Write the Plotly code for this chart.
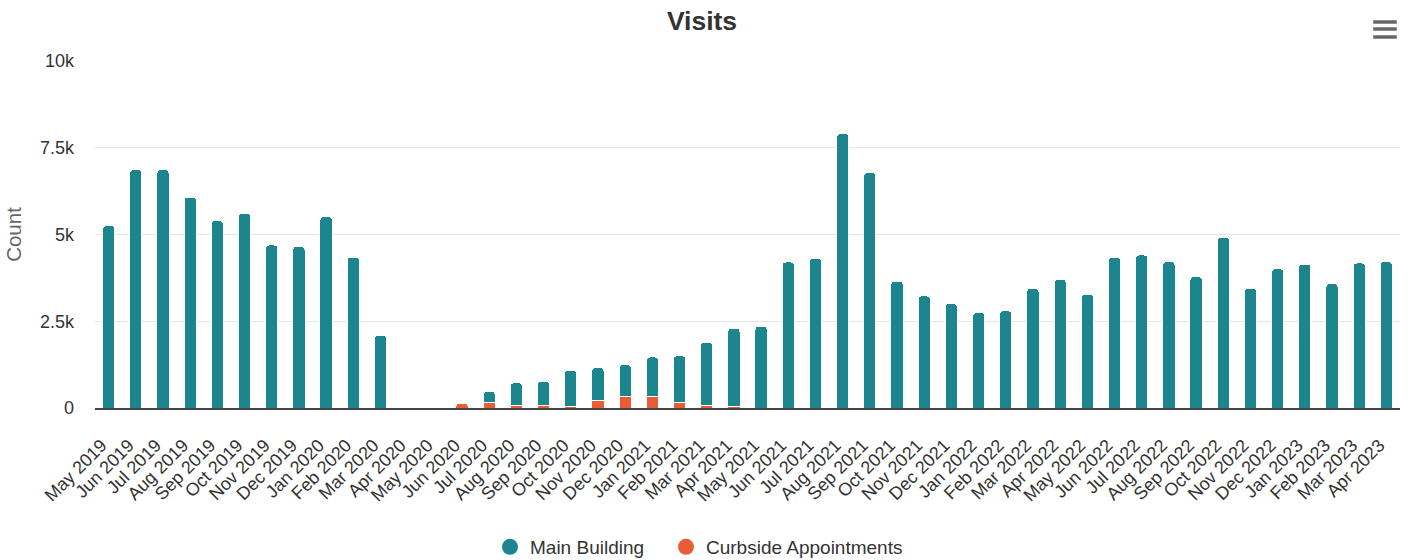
import plotly.graph_objects as go

months = ["May 2019", "Jun 2019", "Jul 2019", "Aug 2019", "Sep 2019", "Oct 2019", "Nov 2019", "Dec 2019",
          "Jan 2020", "Feb 2020", "Mar 2020", "Apr 2020", "May 2020", "Jun 2020", "Jul 2020", "Aug 2020",
          "Sep 2020", "Oct 2020", "Nov 2020", "Dec 2020", "Jan 2021", "Feb 2021", "Mar 2021", "Apr 2021",
          "May 2021", "Jun 2021", "Jul 2021", "Aug 2021", "Sep 2021", "Oct 2021", "Nov 2021", "Dec 2021",
          "Jan 2022", "Feb 2022", "Mar 2022", "Apr 2022", "May 2022", "Jun 2022", "Jul 2022", "Aug 2022",
          "Sep 2022", "Oct 2022", "Nov 2022", "Dec 2022", "Jan 2023", "Feb 2023", "Mar 2023", "Apr 2023"]

main_building = [5260, 6870, 6870, 6080, 5400, 5610, 4700, 4660, 5520, 4350, 2090, 0,
                 0, 0, 310, 650, 690, 1040, 950, 910, 1130, 1340, 1820, 2250,
                 2360, 4210, 4320, 7910, 6790, 3660, 3230, 3010, 2750, 2800, 3450, 3710,
                 3280, 4350, 4410, 4220, 3790, 4920, 3450, 4010, 4150, 3580, 4180, 4220]

curbside = [0, 0, 0, 0, 0, 0, 0, 0, 0, 0, 0, 0,
            0, 140, 170, 80, 80, 50, 220, 340, 340, 170, 80, 50,
            0, 0, 0, 0, 0, 0, 0, 0, 0, 0, 0, 0,
            0, 0, 0, 0, 0, 0, 0, 0, 0, 0, 0, 0]

y_ticks = [0, 2500, 5000, 7500, 10000]
y_tick_labels = ["0", "2.5k", "5k", "7.5k", "10k"]

TEAL = "#1d858e"
ORANGE = "#e95c36"
FONT = "Liberation Sans, Arial, sans-serif"

W, H = 1417, 560
L, T = 95, 61
PW, PH = 1305, 347

def nz(vals):
    return [v if v else None for v in vals]

fig = go.Figure()
fig.add_trace(go.Bar(x=months, y=nz(curbside), name="Curbside Appointments",
                     marker=dict(color=ORANGE, line=dict(color="white", width=1)),
                     showlegend=False))
fig.add_trace(go.Bar(x=months, y=nz(main_building), name="Main Building",
                     marker=dict(color=TEAL, line=dict(color="white", width=1)),
                     showlegend=False))
# legend entries with circle symbols
fig.add_trace(go.Scatter(x=[None], y=[None], mode="markers", name="Main Building",
                         marker=dict(color=TEAL, size=16, symbol="circle"), legend="legend"))
fig.add_trace(go.Scatter(x=[None], y=[None], mode="markers", name="Curbside Appointments",
                         marker=dict(color=ORANGE, size=16, symbol="circle"), legend="legend2"))

# hamburger menu icon
for yy in [1.1124, 1.0922, 1.0692]:
    fig.add_shape(type="line", xref="paper", yref="paper", x0=0.9795, x1=0.9975, y0=yy, y1=yy,
                  line=dict(color="#666666", width=3.5))

legend_y = (PH - (547 - T)) / PH
leg_common = dict(orientation="h", xanchor="left", y=legend_y, yanchor="middle",
                  font=dict(size=19, color="#333333"), itemsizing="trace",
                  bgcolor="rgba(0,0,0,0)")

fig.update_layout(
    width=W, height=H,
    margin=dict(l=L, r=W - L - PW, t=T, b=H - T - PH, autoexpand=False),
    paper_bgcolor="white", plot_bgcolor="white",
    barmode="stack", bargap=0.55, barcornerradius=4,
    font=dict(family=FONT, color="#333333", size=18),
    title=dict(text="<b>Visits</b>", x=702 / W, xanchor="center", y=1 - 20.5 / H, yanchor="middle",
               yref="container", automargin=False,
               font=dict(size=26.5, color="#333333", family=FONT)),
    xaxis=dict(type="category", tickangle=-45, tickfont=dict(size=18, color="#333333"),
               showline=True, linecolor="#444444", linewidth=1.5, showgrid=False,
               ticks="", fixedrange=True, automargin=False, ticklabelstandoff=18, ticklabelshift=-7),
    yaxis=dict(range=[0, 10000], tickvals=y_ticks, ticktext=y_tick_labels,
               tickfont=dict(size=18, color="#333333"), showgrid=True, gridcolor="#e6e6e6",
               gridwidth=1, zeroline=False, showline=False, ticks="", ticklabelstandoff=20,
               automargin=False,
               title=dict(text="Count", font=dict(size=20.5, color="#666666"), standoff=12)),
    legend=dict(x=((511 + 4 - 25) - L) / PW, **leg_common),
    legend2=dict(x=((687 + 4 - 25) - L) / PW, **leg_common),
    hovermode=False,
)

fig.write_html("out.html", config={"displayModeBar": False},
               post_script="document.body.style.margin='0px';")
